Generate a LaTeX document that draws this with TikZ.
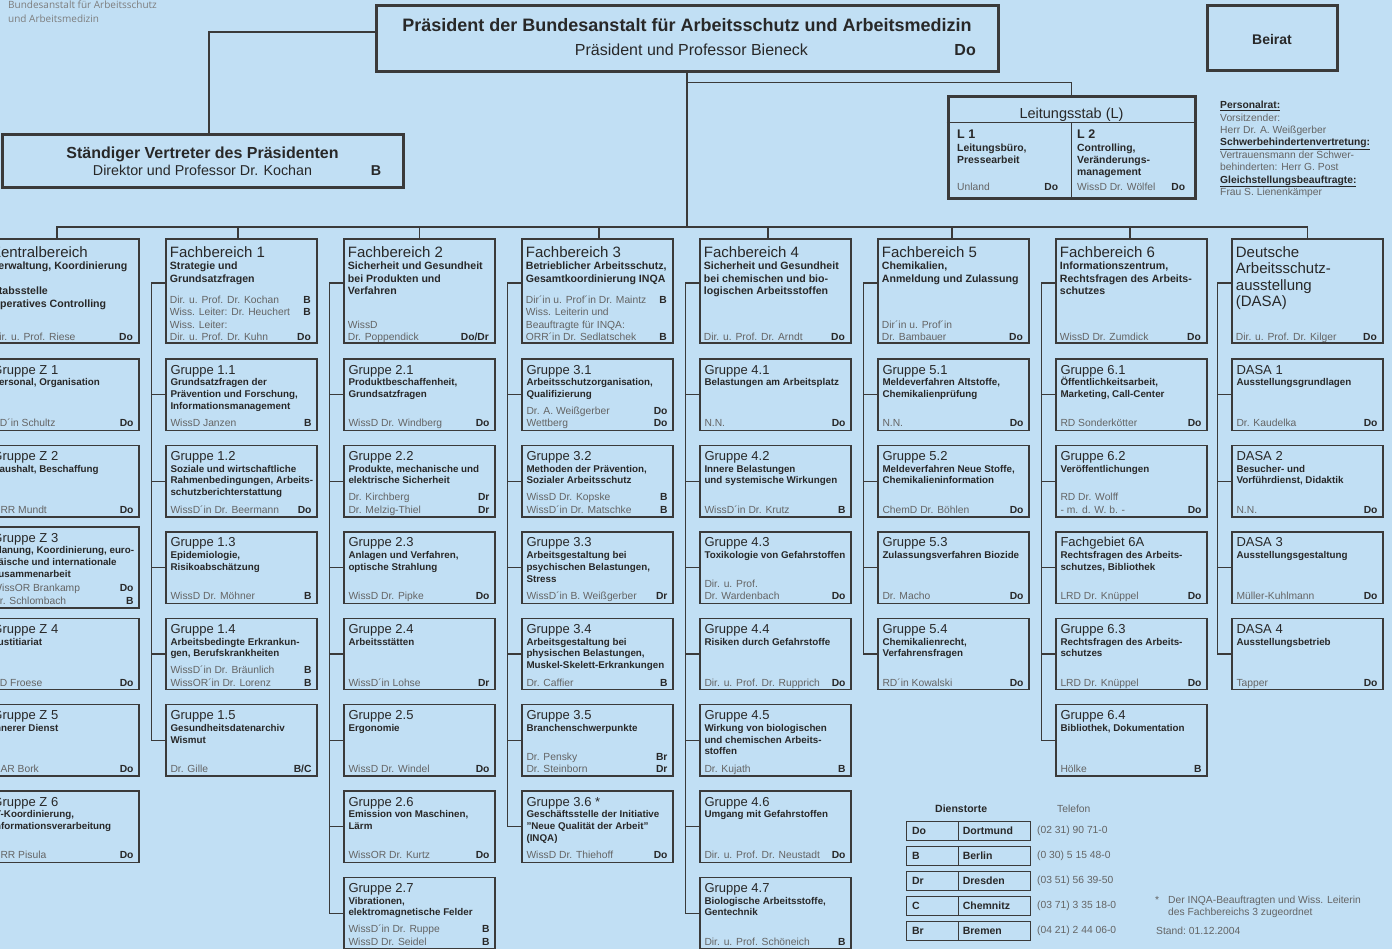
\documentclass[tikz,border=0pt]{standalone}
\usepackage{fontspec}
\setmainfont{Liberation Sans}
\newfontfamily\logofont{Open Sans}
\usepackage{xcolor}
\usetikzlibrary{positioning,calc}
\definecolor{paper}{RGB}{193,223,244}
\definecolor{ink}{RGB}{40,40,40}
\definecolor{rule}{RGB}{58,58,58}
\definecolor{staffgray}{RGB}{100,100,100}
\definecolor{logogray}{RGB}{125,125,125}

\tikzset{
  grpbox/.style={draw=rule, line width=1.4pt, minimum width=151pt, minimum height=71.5pt, inner sep=0pt},
  fbbox/.style={grpbox, line width=2.6pt, minimum height=104pt},
  topbox/.style={draw=rule, line width=3pt, inner sep=0pt},
  gtitle/.style={anchor=base west, inner sep=0pt, text=ink, font=\fontsize{13}{15}\selectfont},
  ftitle/.style={anchor=base west, inner sep=0pt, text=ink, font=\fontsize{15}{16.5}\selectfont},
  gtask/.style={anchor=base west, inner sep=0pt, text=ink, font=\fontsize{9.8}{11.7}\selectfont\bfseries},
  ftask/.style={gtask, font=\fontsize{10.6}{12.6}\selectfont\bfseries},
  staffrow/.style={anchor=base west, inner sep=0pt, text=staffgray, font=\fontsize{10.3}{12.5}\selectfont},
  note/.style={anchor=base west, inner sep=0pt, text=staffgray, font=\fontsize{10.3}{12.4}\selectfont},
  link/.style={draw=rule, line width=1.2pt},
  legcell/.style={draw=rule, line width=0.8pt, minimum height=19pt, inner sep=0pt, text=ink, font=\fontsize{10.5}{12}\selectfont\bfseries},
}

\newcommand{\loc}[1]{\textbf{\color{ink}#1}}
\newcommand{\staff}[2][141pt]{\begin{tabular*}{#1}[b]{@{}l@{\extracolsep{\fill}}r@{}}#2\end{tabular*}}

% Gruppe box: [box options], node, left x, row, title, tasks, staff
\newcommand{\grp}[7][]{%
  \node[grpbox,#1] (#2) at ({#3+75.5},{394.75+86.4*(#4-1)}) {};
  \node[gtitle] (#2t) at ([xshift=5pt,yshift=-15.7pt]#2.north west) {#5};
  \node[gtask] (#2a) at ([xshift=5pt,yshift=-27.5pt]#2.north west) {\parbox[t]{150pt}{\raggedright #6}};
  \node[staffrow] (#2s) at ([xshift=5pt,yshift=4.3pt]#2.south west) {\staff{#7}};
}
% Fachbereich box: node, left x, title, tasks, staff
\newcommand{\fb}[5]{%
  \node[fbbox] (#1) at ({#2+75.5},291) {};
  \node[ftitle] (#1t) at ([xshift=5pt,yshift=-19.4pt]#1.north west) {\parbox[t]{150pt}{\raggedright #3}};
  \node[ftask] (#1a) at ([xshift=5pt,yshift=-31.8pt]#1.north west) {\parbox[t]{150pt}{\raggedright #4}};
  \node[staffrow] (#1s) at ([xshift=5pt,yshift=3.3pt]#1.south west) {\staff{#5}};
}

\begin{document}
\begin{tikzpicture}[x=1pt,y=-1pt]
\useasboundingbox (0,0) rectangle (1392,949);
\clip (0,0) rectangle (1392,949);
\fill[paper] (0,0) rectangle (1392,949);

% logo
\node[anchor=base west, inner sep=0pt, text=logogray, font=\logofont\fontsize{10}{13.5}\selectfont] (logo) at (8,8.8)
  {\parbox[t]{200pt}{Bundesanstalt für Arbeitsschutz\\und Arbeitsmedizin}};

% head of the institute
\node[topbox, minimum width=622pt, minimum height=66pt] (praes) at (687,39) {};
\node[anchor=base, inner sep=0pt, text=ink, font=\fontsize{18}{20}\selectfont\bfseries] (praest) at (687,31.4) {Präsident der Bundesanstalt für Arbeitsschutz und Arbeitsmedizin};
\node[anchor=base, inner sep=0pt, text=ink, font=\fontsize{16}{18}\selectfont] (praesn) at (691.5,55.7) {Präsident und Professor Bieneck};
\node[anchor=base east, inner sep=0pt, text=ink, font=\fontsize{16}{18}\selectfont\bfseries] (praesl) at (976,55.7) {Do};

\node[topbox, minimum width=130pt, minimum height=65pt] (beirat) at (1272,38.5) {};
\node[anchor=base, inner sep=0pt, text=ink, font=\fontsize{14}{16}\selectfont\bfseries] (beiratt) at (1272,45) {Beirat};

\node[topbox, minimum width=401pt, minimum height=53pt] (stv) at (202.5,161.5) {};
\node[anchor=base, inner sep=0pt, text=ink, font=\fontsize{16}{18}\selectfont\bfseries] (stvt) at (202.5,158.8) {Ständiger Vertreter des Präsidenten};
\node[anchor=base, inner sep=0pt, text=ink, font=\fontsize{14.3}{16}\selectfont] (stvn) at (202.5,175.1) {Direktor und Professor Dr. Kochan};
\node[anchor=base, inner sep=0pt, text=ink, font=\fontsize{14.3}{16}\selectfont\bfseries] (stvl) at (376,175.1) {B};

% Leitungsstab
\node[topbox, minimum width=247pt, minimum height=102pt] (leit) at (1071.5,148) {};
\draw[link] ([yshift=-27pt]leit.north west) -- ([yshift=-27pt]leit.north east);
\draw[link] ([yshift=-27pt]leit.north) -- (leit.south);
\node[anchor=base, inner sep=0pt, text=ink, font=\fontsize{14.5}{16}\selectfont] (leitt) at (1071.5,118.2) {Leitungsstab (L)};
\node[anchor=base west, inner sep=0pt, text=ink, font=\fontsize{12.5}{14}\selectfont\bfseries] (l1t) at (957,138.5) {L 1};
\node[ftask, font=\fontsize{10.4}{12}\selectfont\bfseries] (l1a) at (957,151.8) {\parbox[t]{110pt}{Leitungsbüro,\\Pressearbeit}};
\node[staffrow] (l1s) at (957,190.7) {\staff[101pt]{Unland & \loc{Do}}};
\node[anchor=base west, inner sep=0pt, text=ink, font=\fontsize{12.5}{14}\selectfont\bfseries] (l2t) at (1077,138.5) {L 2};
\node[ftask, font=\fontsize{10.4}{12}\selectfont\bfseries] (l2a) at (1077,151.8) {\parbox[t]{110pt}{Controlling,\\Veränderungs-\\management}};
\node[staffrow] (l2s) at (1077,190.7) {\staff[108pt]{WissD Dr. Wölfel & \loc{Do}}};

% staff council etc.
\node[note] (rat) at (1220,108.7) {\parbox[t]{170pt}{%
  \textcolor{ink}{\textbf{\underline{Personalrat:}}}\\
  Vorsitzender:\\
  Herr Dr. A. Weißgerber\\
  \textcolor{ink}{\textbf{\underline{Schwerbehindertenvertretung:}}}\\
  Vertrauensmann der Schwer-\\
  behinderten: Herr G. Post\\
  \textcolor{ink}{\textbf{\underline{Gleichstellungsbeauftragte:}}}\\
  Frau S. Lienenkämper}};

% Zentralbereich
\fb{fbz}{-12}{Zentralbereich}{Verwaltung, Koordinierung\\\mbox{}\\Stabsstelle\\Operatives Controlling}{Dir. u. Prof. Riese & \loc{Do}}
\grp{gz1}{-12}{1}{Gruppe Z 1}{Personal, Organisation}{RD´in Schultz & \loc{Do}}
\grp{gz2}{-12}{2}{Gruppe Z 2}{Haushalt, Beschaffung}{ORR Mundt & \loc{Do}}
\grp[minimum height=81pt]{gz3}{-12}{3}{Gruppe Z 3}{Planung, Koordinierung, euro-\\päische und internationale\\Zusammenarbeit}{WissOR Brankamp & \loc{Do}\\Dr. Schlombach & \loc{B}}
\grp{gz4}{-12}{4}{Gruppe Z 4}{Justitiariat}{RD Froese & \loc{Do}}
\grp{gz5}{-12}{5}{Gruppe Z 5}{Innerer Dienst}{OAR Bork & \loc{Do}}
\grp{gz6}{-12}{6}{Gruppe Z 6}{IT-Koordinierung,\\Informationsverarbeitung}{ORR Pisula & \loc{Do}}

% Fachbereich 1
\fb{fb1}{166}{Fachbereich 1}{Strategie und\\Grundsatzfragen}{Dir. u. Prof. Dr. Kochan & \loc{B}\\Wiss. Leiter: Dr. Heuchert & \loc{B}\\Wiss. Leiter: & \\Dir. u. Prof. Dr. Kuhn & \loc{Do}}
\grp{g11}{166}{1}{Gruppe 1.1}{Grundsatzfragen der\\Prävention und Forschung,\\Informationsmanagement}{WissD Janzen & \loc{B}}
\grp{g12}{166}{2}{Gruppe 1.2}{Soziale und wirtschaftliche\\Rahmenbedingungen, Arbeits-\\schutzberichterstattung}{WissD´in Dr. Beermann & \loc{Do}}
\grp{g13}{166}{3}{Gruppe 1.3}{Epidemiologie,\\Risikoabschätzung}{WissD Dr. Möhner & \loc{B}}
\grp{g14}{166}{4}{Gruppe 1.4}{Arbeitsbedingte Erkrankun-\\gen, Berufskrankheiten}{WissD´in Dr. Bräunlich & \loc{B}\\WissOR´in Dr. Lorenz & \loc{B}}
\grp{g15}{166}{5}{Gruppe 1.5}{Gesundheitsdatenarchiv\\Wismut}{Dr. Gille & \loc{B/C}}

% Fachbereich 2
\fb{fb2}{344}{Fachbereich 2}{Sicherheit und Gesundheit\\bei Produkten und\\Verfahren}{WissD & \\Dr. Poppendick & \loc{Do/Dr}}
\grp{g21}{344}{1}{Gruppe 2.1}{Produktbeschaffenheit,\\Grundsatzfragen}{WissD Dr. Windberg & \loc{Do}}
\grp{g22}{344}{2}{Gruppe 2.2}{Produkte, mechanische und\\elektrische Sicherheit}{Dr. Kirchberg & \loc{Dr}\\Dr. Melzig-Thiel & \loc{Dr}}
\grp{g23}{344}{3}{Gruppe 2.3}{Anlagen und Verfahren,\\optische Strahlung}{WissD Dr. Pipke & \loc{Do}}
\grp{g24}{344}{4}{Gruppe 2.4}{Arbeitsstätten}{WissD´in Lohse & \loc{Dr}}
\grp{g25}{344}{5}{Gruppe 2.5}{Ergonomie}{WissD Dr. Windel & \loc{Do}}
\grp{g26}{344}{6}{Gruppe 2.6}{Emission von Maschinen,\\Lärm}{WissOR Dr. Kurtz & \loc{Do}}
\grp{g27}{344}{7}{Gruppe 2.7}{Vibrationen,\\elektromagnetische Felder}{WissD´in Dr. Ruppe & \loc{B}\\WissD Dr. Seidel & \loc{B}}

% Fachbereich 3
\fb{fb3}{522}{Fachbereich 3}{Betrieblicher Arbeitsschutz,\\Gesamtkoordinierung INQA}{Dir´in u. Prof´in Dr. Maintz & \loc{B}\\Wiss. Leiterin und & \\Beauftragte für INQA: & \\ORR´in Dr. Sedlatschek & \loc{B}}
\grp{g31}{522}{1}{Gruppe 3.1}{Arbeitsschutzorganisation,\\Qualifizierung}{Dr. A. Weißgerber & \loc{Do}\\Wettberg & \loc{Do}}
\grp{g32}{522}{2}{Gruppe 3.2}{Methoden der Prävention,\\Sozialer Arbeitsschutz}{WissD Dr. Kopske & \loc{B}\\WissD´in Dr. Matschke & \loc{B}}
\grp{g33}{522}{3}{Gruppe 3.3}{Arbeitsgestaltung bei\\psychischen Belastungen,\\Stress}{WissD´in B. Weißgerber & \loc{Dr}}
\grp{g34}{522}{4}{Gruppe 3.4}{Arbeitsgestaltung bei\\physischen Belastungen,\\Muskel-Skelett-Erkrankungen}{Dr. Caffier & \loc{B}}
\grp{g35}{522}{5}{Gruppe 3.5}{Branchenschwerpunkte}{Dr. Pensky & \loc{Br}\\Dr. Steinborn & \loc{Dr}}
\grp{g36}{522}{6}{Gruppe 3.6 *}{Geschäftsstelle der Initiative\\"Neue Qualität der Arbeit"\\(INQA)}{WissD Dr. Thiehoff & \loc{Do}}

% Fachbereich 4
\fb{fb4}{700}{Fachbereich 4}{Sicherheit und Gesundheit\\bei chemischen und bio-\\logischen Arbeitsstoffen}{Dir. u. Prof. Dr. Arndt & \loc{Do}}
\grp{g41}{700}{1}{Gruppe 4.1}{Belastungen am Arbeitsplatz}{N.N. & \loc{Do}}
\grp{g42}{700}{2}{Gruppe 4.2}{Innere Belastungen\\und systemische Wirkungen}{WissD´in Dr. Krutz & \loc{B}}
\grp{g43}{700}{3}{Gruppe 4.3}{Toxikologie von Gefahrstoffen}{Dir. u. Prof. & \\Dr. Wardenbach & \loc{Do}}
\grp{g44}{700}{4}{Gruppe 4.4}{Risiken durch Gefahrstoffe}{Dir. u. Prof. Dr. Rupprich & \loc{Do}}
\grp{g45}{700}{5}{Gruppe 4.5}{Wirkung von biologischen\\und chemischen Arbeits-\\stoffen}{Dr. Kujath & \loc{B}}
\grp{g46}{700}{6}{Gruppe 4.6}{Umgang mit Gefahrstoffen}{Dir. u. Prof. Dr. Neustadt & \loc{Do}}
\grp{g47}{700}{7}{Gruppe 4.7}{Biologische Arbeitsstoffe,\\Gentechnik}{Dir. u. Prof. Schöneich & \loc{B}}

% Fachbereich 5
\fb{fb5}{878}{Fachbereich 5}{Chemikalien,\\Anmeldung und Zulassung}{Dir´in u. Prof´in & \\Dr. Bambauer & \loc{Do}}
\grp{g51}{878}{1}{Gruppe 5.1}{Meldeverfahren Altstoffe,\\Chemikalienprüfung}{N.N. & \loc{Do}}
\grp{g52}{878}{2}{Gruppe 5.2}{Meldeverfahren Neue Stoffe,\\Chemikalieninformation}{ChemD Dr. Böhlen & \loc{Do}}
\grp{g53}{878}{3}{Gruppe 5.3}{Zulassungsverfahren Biozide}{Dr. Macho & \loc{Do}}
\grp{g54}{878}{4}{Gruppe 5.4}{Chemikalienrecht,\\Verfahrensfragen}{RD´in Kowalski & \loc{Do}}

% Fachbereich 6
\fb{fb6}{1056}{Fachbereich 6}{Informationszentrum,\\Rechtsfragen des Arbeits-\\schutzes}{WissD Dr. Zumdick & \loc{Do}}
\grp{g61}{1056}{1}{Gruppe 6.1}{Öffentlichkeitsarbeit,\\Marketing, Call-Center}{RD Sonderkötter & \loc{Do}}
\grp{g62}{1056}{2}{Gruppe 6.2}{Veröffentlichungen}{RD Dr. Wolff & \\- m. d. W. b. - & \loc{Do}}
\grp{g6a}{1056}{3}{Fachgebiet 6A}{Rechtsfragen des Arbeits-\\schutzes, Bibliothek}{LRD Dr. Knüppel & \loc{Do}}
\grp{g63}{1056}{4}{Gruppe 6.3}{Rechtsfragen des Arbeits-\\schutzes}{LRD Dr. Knüppel & \loc{Do}}
\grp{g64}{1056}{5}{Gruppe 6.4}{Bibliothek, Dokumentation}{Hölke & \loc{B}}

% DASA
\fb{fbd}{1232}{Deutsche\\Arbeitsschutz-\\ausstellung\\(DASA)}{}{Dir. u. Prof. Dr. Kilger & \loc{Do}}
\grp{gd1}{1232}{1}{DASA 1}{Ausstellungsgrundlagen}{Dr. Kaudelka & \loc{Do}}
\grp{gd2}{1232}{2}{DASA 2}{Besucher- und\\Vorführdienst, Didaktik}{N.N. & \loc{Do}}
\grp{gd3}{1232}{3}{DASA 3}{Ausstellungsgestaltung}{Müller-Kuhlmann & \loc{Do}}
\grp{gd4}{1232}{4}{DASA 4}{Ausstellungsbetrieb}{Tapper & \loc{Do}}

% lines from the top
\coordinate (bus) at (687,227);
\draw[link] (praes.south) -- (bus);
\foreach \n/\d in {fbz/-6.5,fb1/-3.5,fb2/0,fb3/1.5,fb4/-7.5,fb5/-1.5,fb6/-1.5,fbd/0}
  \draw[link] ([xshift=\d pt]\n.north) |- (bus);
\draw[link] (praes.south) |- ([yshift=13pt]leit.north) -- (leit.north);
\draw[link] ([xshift=6.5pt]stv.north) |- ([yshift=7pt]praes.west);

% lines down each column
\draw[link] ([yshift=8pt]fbz.west) -- ++(-13pt,0) |- (gz6.west);
\draw[link] ([yshift=8pt]fb1.west) -- ++(-13pt,0) |- (g15.west);
\draw[link] ([yshift=8pt]fb2.west) -- ++(-13pt,0) |- (g27.west);
\draw[link] ([yshift=8pt]fb3.west) -- ++(-13pt,0) |- (g36.west);
\draw[link] ([yshift=8pt]fb4.west) -- ++(-13pt,0) |- (g47.west);
\draw[link] ([yshift=8pt]fb5.west) -- ++(-13pt,0) |- (g54.west);
\draw[link] ([yshift=8pt]fb6.west) -- ++(-13pt,0) |- (g64.west);
\draw[link] ([yshift=8pt]fbd.west) -- ++(-13pt,0) |- (gd4.west);
\foreach \g in {gz1,gz2,gz3,gz4,gz5,g11,g12,g13,g14,g21,g22,g23,g24,g25,g26,
                g31,g32,g33,g34,g35,g41,g42,g43,g44,g45,g46,g51,g52,g53,
                g61,g62,g6a,g63,gd1,gd2,gd3}
  \draw[link] (\g.west) -- ++(-13pt,0);

% Dienstorte
\node[anchor=base west, inner sep=0pt, text=ink, font=\fontsize{10.5}{12}\selectfont\bfseries] (orte) at (935,812.8) {Dienstorte};
\node[note] (tel) at (1057,812.8) {Telefon};
\foreach \c/\city/\phone [count=\i] in {Do/Dortmund/(02 31) 90 71-0, B/Berlin/(0 30) 5 15 48-0,
    Dr/Dresden/(03 51) 56 39-50, C/Chemnitz/(03 71) 3 35 18-0, Br/Bremen/(04 21) 2 44 06-0} {
  \node[legcell, minimum width=52pt, text width=40pt, align=left] (code\i) at (932,{806+25*\i}) {\c};
  \node[legcell, minimum width=72pt, text width=64pt, align=left, right=0pt of code\i] (city\i) {\city};
  \node[note, anchor=west] (phone\i) at (1037,{806+25*\i}) {\phone};
}

% footnote
\node[note] (star) at (1155,903.5) {*};
\node[note] (fn) at (1168,903.5) {\parbox[t]{220pt}{Der INQA-Beauftragten und Wiss. Leiterin\\des Fachbereichs 3 zugeordnet}};
\node[note] (stand) at (1156,934.5) {Stand:\ 01.12.2004};
\end{tikzpicture}
\end{document}
